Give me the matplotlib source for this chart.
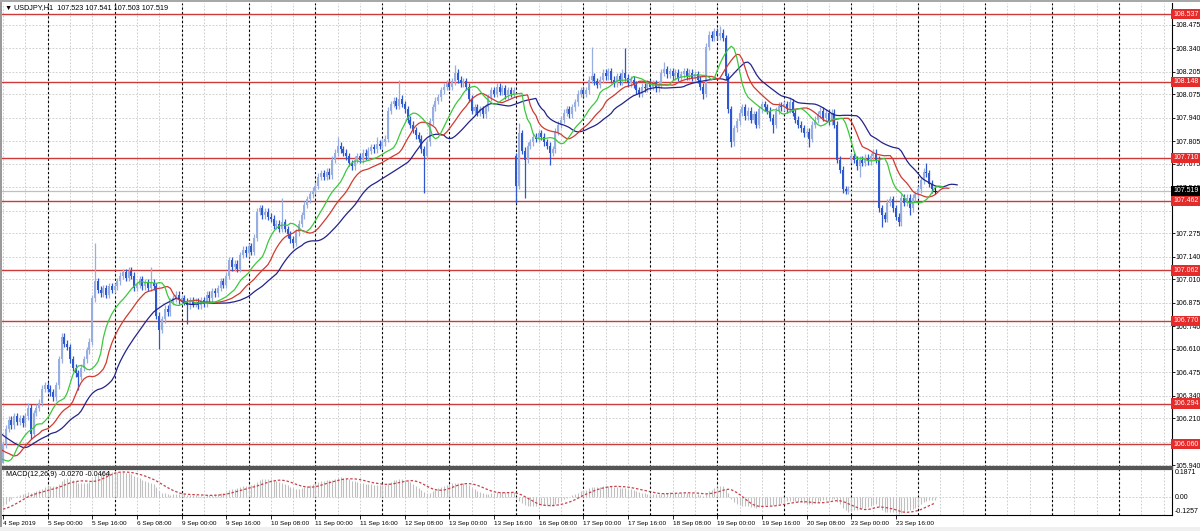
import numpy as np
import matplotlib
matplotlib.use("Agg")
import matplotlib.pyplot as plt
from matplotlib.patches import Rectangle
import matplotlib.transforms as mtransforms
from matplotlib import font_manager

installed = {f.name for f in font_manager.fontManager.ttflist}
if 'Liberation Sans Narrow' in installed:
    FONT, FS_AX, FS_T, FS_TT = 'Liberation Sans Narrow', 5.8, 5.8, 6.0
elif 'DejaVu Sans Condensed' in installed:
    FONT, FS_AX, FS_T, FS_TT = 'DejaVu Sans Condensed', 5.0, 4.9, 5.2
else:
    FONT, FS_AX, FS_T, FS_TT = 'Liberation Sans', 5.0, 4.6, 5.2
plt.rcParams['font.family'] = [FONT, 'DejaVu Sans']

# ---------------- data ----------------
symbol_title = "\u25BC USDJPY,H1  107.523 107.541 107.503 107.519"
macd_title = "MACD(12,26,9) -0.0270 -0.0464"

# closes before the visible window (inferred from where the indicators start)
prior_close = [106.38, 106.35, 106.33, 106.30, 106.31, 106.27, 106.25, 106.22, 106.20, 106.18,
               106.15, 106.12, 106.10, 106.08, 106.06, 106.05, 106.03, 106.02, 106.00, 105.99,
               105.98, 105.97, 105.96, 105.95, 105.96, 105.94, 105.95, 105.96, 105.94, 105.95]

close_04 = [106.06, 106.15, 106.20, 106.17, 106.22, 106.19, 106.21, 106.18, 106.22, 106.27,
            106.12, 106.24, 106.27, 106.30, 106.38, 106.40]
close_05 = [106.38, 106.36, 106.33, 106.40, 106.55, 106.68, 106.64, 106.62, 106.55, 106.50,
            106.47, 106.45, 106.50, 106.55, 106.60, 106.65, 106.90, 107.00, 106.95, 106.93,
            106.96, 106.92, 106.97, 106.95]
close_06 = [106.97, 107.00, 107.03, 107.05, 107.02, 107.06, 107.03, 106.96, 106.98, 107.01,
            106.97, 106.99, 106.96, 106.99, 106.97, 106.80, 106.72, 106.78, 106.84, 106.82,
            106.88, 106.90, 106.92, 106.89]
close_09 = [106.90, 106.88, 106.86, 106.89, 106.87, 106.88, 106.86, 106.89, 106.87, 106.92,
            106.90, 106.94, 106.93, 106.96, 107.00, 106.98, 107.03, 107.12, 107.08, 107.10,
            107.07, 107.15, 107.18, 107.16]
close_10 = [107.20, 107.17, 107.25, 107.40, 107.42, 107.38, 107.40, 107.37, 107.36, 107.32,
            107.33, 107.30, 107.34, 107.30, 107.27, 107.24, 107.22, 107.28, 107.33, 107.38,
            107.44, 107.47, 107.50, 107.52]
close_11 = [107.55, 107.60, 107.62, 107.60, 107.63, 107.61, 107.70, 107.74, 107.78, 107.76,
            107.74, 107.72, 107.68, 107.66, 107.70, 107.72, 107.70, 107.74, 107.72, 107.75,
            107.77, 107.76, 107.79, 107.78]
close_12 = [107.80, 107.82, 107.98, 108.02, 108.04, 108.01, 108.05, 108.02, 107.99, 107.93,
            107.90, 107.87, 107.84, 107.82, 107.76, 107.72, 107.80, 107.92, 108.00, 108.04,
            108.06, 108.10, 108.12, 108.14]
close_13 = [108.12, 108.15, 108.20, 108.16, 108.14, 108.15, 108.12, 108.05, 107.98, 108.00,
            107.97, 107.99, 107.96, 108.00, 108.06, 108.10, 108.08, 108.12, 108.09, 108.11,
            108.07, 108.10, 108.08, 108.10]
close_16 = [107.55, 107.85, 107.75, 107.70, 107.78, 107.80, 107.83, 107.82, 107.85, 107.83,
            107.80, 107.78, 107.74, 107.76, 107.86, 107.90, 107.93, 107.97, 107.99, 107.96,
            108.00, 108.03, 108.08, 108.10]
close_17 = [108.08, 108.10, 108.16, 108.18, 108.15, 108.13, 108.16, 108.20, 108.18, 108.21,
            108.16, 108.14, 108.18, 108.15, 108.20, 108.17, 108.14, 108.16, 108.13, 108.10,
            108.08, 108.12, 108.11, 108.14]
close_18 = [108.12, 108.14, 108.11, 108.13, 108.20, 108.22, 108.19, 108.21, 108.18, 108.20,
            108.17, 108.19, 108.21, 108.18, 108.20, 108.17, 108.19, 108.16, 108.12, 108.08,
            108.35, 108.42, 108.40, 108.44]
close_19 = [108.41, 108.43, 108.40, 108.18, 107.99, 107.80, 107.88, 107.92, 107.97, 108.00,
            107.95, 107.98, 107.93, 107.96, 107.90, 107.99, 108.02, 108.00, 107.98, 107.94,
            107.90, 107.98, 108.01, 108.00]
close_20 = [108.02, 107.99, 108.03, 107.97, 107.93, 107.90, 107.88, 107.85, 107.86, 107.82,
            107.90, 107.93, 107.96, 107.98, 107.94, 107.97, 107.92, 107.97, 107.90, 107.70,
            107.64, 107.53, 107.52, 107.53]
close_23 = [107.72, 107.70, 107.66, 107.70, 107.68, 107.71, 107.69, 107.72, 107.74, 107.70,
            107.42, 107.38, 107.36, 107.45, 107.47, 107.42, 107.37, 107.34, 107.48, 107.45,
            107.48, 107.42, 107.48, 107.50]
close_24 = [107.53, 107.58, 107.63, 107.62, 107.56, 107.53, 107.519]

close = (close_04 + close_05 + close_06 + close_09 + close_10 + close_11 + close_12 +
         close_13 + close_16 + close_17 + close_18 + close_19 + close_20 + close_23 + close_24)

weekend_open = {184: 107.72, 304: 107.70}
last_ohlc = (107.523, 107.541, 107.503, 107.519)
high_spike = {9: 106.30, 33: 107.22, 45: 107.08, 53: 107.08, 100: 107.48, 120: 107.83,
              134: 107.83, 142: 108.16, 162: 108.245, 185: 107.91, 211: 108.35, 223: 108.34,
              237: 108.26, 257: 108.47, 282: 108.06, 331: 107.68}
low_spike = {0: 106.00, 10: 106.09, 18: 106.31, 27: 106.37, 56: 106.61, 66: 106.75,
             104: 107.19, 151: 107.51, 184: 107.45, 187: 107.48, 196: 107.67, 251: 108.05,
             261: 107.77, 276: 107.85, 289: 107.77, 307: 107.60, 315: 107.31, 325: 107.38}
typical_wick = 0.02

levels = [108.537, 108.148, 107.710, 107.462, 107.062, 106.770, 106.294, 106.060]
bid = 107.519

grid_prices = [105.940, 106.075, 106.210, 106.340, 106.475, 106.610, 106.740, 106.875, 107.010,
               107.140, 107.275, 107.405, 107.540, 107.675, 107.805, 107.940, 108.075, 108.205,
               108.340, 108.475]
hidden_labels = [106.075, 107.405]

time_labels = ["4 Sep 2019", "5 Sep 00:00", "5 Sep 16:00", "6 Sep 08:00", "9 Sep 00:00",
               "9 Sep 16:00", "10 Sep 08:00", "11 Sep 00:00", "11 Sep 16:00", "12 Sep 08:00",
               "13 Sep 00:00", "13 Sep 16:00", "16 Sep 08:00", "17 Sep 00:00", "17 Sep 16:00",
               "18 Sep 08:00", "19 Sep 00:00", "19 Sep 16:00", "20 Sep 08:00", "23 Sep 00:00",
               "23 Sep 16:00"]
label_step = 16
day_first_bar = 16
bars_per_day = 24

macd_ticks = [0.1871, 0.0, -0.1257]

# ---------------- OHLC build ----------------
n = len(close)
c = np.array(close, dtype=float)
o = np.empty(n)
o[0] = prior_close[-1]
o[1:] = c[:-1]
for k, v in weekend_open.items():
    o[k] = v
o[-1] = last_ohlc[0]
h = np.maximum(o, c) + typical_wick
l = np.minimum(o, c) - typical_wick
for k, v in high_spike.items():
    h[k] = max(v, max(o[k], c[k]))
for k, v in low_spike.items():
    l[k] = min(v, min(o[k], c[k]))
h[-1], l[-1] = last_ohlc[1], last_ohlc[2]

pc = np.array(prior_close)
full_c = np.concatenate([pc, c])
full_h = np.concatenate([pc + typical_wick, h])
full_l = np.concatenate([pc - typical_wick, l])
median = (full_h + full_l) / 2
npri = len(pc)
full_x = np.arange(len(full_c)) - npri


def smma(x, p):
    out = np.full(len(x), np.nan)
    out[p - 1] = np.mean(x[:p])
    for i in range(p, len(x)):
        out[i] = (out[i - 1] * (p - 1) + x[i]) / p
    return out


def ema(x, p):
    a = 2.0 / (p + 1)
    out = np.empty(len(x))
    out[0] = x[0]
    for i in range(1, len(x)):
        out[i] = a * x[i] + (1 - a) * out[i - 1]
    return out


jaw = smma(median, 13)
teeth = smma(median, 8)
lips = smma(median, 5)

macd_main = ema(full_c, 12) - ema(full_c, 26)
signal = np.convolve(macd_main, np.ones(9) / 9, mode='full')[:len(macd_main)]
signal[:8] = np.nan

# ---------------- figure ----------------
W, H = 1200, 531
fig = plt.figure(figsize=(12, 5.31), dpi=100)
fig.patch.set_facecolor('white')


def fx(px):
    return px / W


def fy(py):
    return 1 - py / H


left_px, right_px = 1.6, 1172
ax = fig.add_axes([fx(left_px), fy(467), fx(right_px - left_px), fy(3) - fy(467)])
ax2 = fig.add_axes([fx(left_px), fy(515), fx(right_px - left_px), fy(469) - fy(515)], sharex=ax)

xmin, xmax = -0.5, 419.0
ax.set_xlim(xmin, xmax)
ax.set_ylim(105.9289, 108.6017)
ax2.set_ylim(-0.1257, 0.1871)

grid_col = '#c6c6c6'
dots = (0, (2, 2))
for gp in grid_prices:
    ax.axhline(gp, color=grid_col, lw=0.6, ls=dots, zorder=0)
ax2.axhline(0.0, color=grid_col, lw=0.6, ls=dots, zorder=0)
for k in range(0, int(xmax) + 1, 8):
    ax.axvline(k, color=grid_col, lw=0.6, ls=dots, zorder=0)
    ax2.axvline(k, color=grid_col, lw=0.6, ls=dots, zorder=0)
for k in range(day_first_bar, int(xmax) + 1, bars_per_day):
    ax.axvline(k, color='black', lw=0.8, ls=dots, zorder=1)
    ax2.axvline(k, color='black', lw=0.8, ls=dots, zorder=1)

for lv in levels:
    ax.axhline(lv, color='#cc3a3a', lw=1.0, zorder=2)
ax.axhline(bid, color='#c0c0c0', lw=0.9, zorder=1.5)

# candles
idx = np.arange(n)
up = c >= o
doji = np.abs(c - o) < 0.006
bull_col = '#98aee0'
bear_col = '#2d58cf'
body_b = np.minimum(o, c)
body_h = np.maximum(np.abs(c - o), 0.004)
m_up = up & ~doji
m_dn = ~up & ~doji
ax.vlines(idx[m_up], l[m_up], h[m_up], color=bull_col, lw=0.9, zorder=3)
ax.vlines(idx[m_dn], l[m_dn], h[m_dn], color=bear_col, lw=0.9, zorder=3)
ax.bar(idx[m_up], body_h[m_up], bottom=body_b[m_up], width=0.72, color=bull_col, lw=0, zorder=3)
ax.bar(idx[m_dn], body_h[m_dn], bottom=body_b[m_dn], width=0.72, color=bear_col, lw=0, zorder=3)
ax.vlines(idx[doji], l[doji], h[doji], color='#222222', lw=0.8, zorder=3)
ax.hlines(c[doji], idx[doji] - 0.9, idx[doji] + 0.9, color='#222222', lw=0.8, zorder=3)

# alligator lines (shifted forward)
ax.plot(full_x + 8, jaw, color='#23238c', lw=0.9, zorder=4)
ax.plot(full_x + 5, teeth, color='#d03a30', lw=0.9, zorder=4)
ax.plot(full_x + 3, lips, color='#3cc83c', lw=0.9, zorder=4)

# MACD
win = slice(npri, None)
ax2.vlines(idx, 0, macd_main[win], color='#c0c0c0', lw=0.8, zorder=2)
ax2.plot(idx, signal[win], color='#c8404a', lw=0.9, ls=(0, (2, 1.5)), zorder=3)

for a in (ax, ax2):
    a.set_facecolor('white')
    a.spines['left'].set_visible(False)
    a.spines['right'].set_color('black')
    a.spines['right'].set_linewidth(0.8)
ax.spines['top'].set_visible(False)
ax.spines['bottom'].set_color('#555555')
ax.spines['bottom'].set_linewidth(1.6)
ax2.spines['top'].set_color('#555555')
ax2.spines['top'].set_linewidth(1.6)
ax2.spines['bottom'].set_color('black')
ax2.spines['bottom'].set_linewidth(0.8)

shown = [g for g in grid_prices if g not in hidden_labels]
ax.yaxis.tick_right()
ax.set_yticks(shown)
ax.set_yticklabels([f"{g:.3f}" for g in shown])
ax.tick_params(axis='y', length=2.0, width=0.6, pad=0.8, labelsize=FS_AX, colors='black')
ax.tick_params(axis='x', bottom=False, labelbottom=False)

ax2.yaxis.tick_right()
ax2.set_yticks(macd_ticks)
ax2.set_yticklabels([f"{macd_ticks[0]:.4f}", "0.00", f"{macd_ticks[2]:.4f}"])
ax2.tick_params(axis='y', length=0, pad=2.0, labelsize=FS_AX)
lbls = ax2.get_yticklabels()
lbls[0].set_va('top')
lbls[2].set_va('bottom')

ax2.set_xticks([label_step * k for k in range(len(time_labels))])
ax2.set_xticklabels(time_labels, ha='left')
ax2.tick_params(axis='x', length=3, width=0.6, pad=1.2, labelsize=FS_T)

tr = mtransforms.blended_transform_factory(ax.transAxes, ax.transData)
for lv in levels:
    ax.text(1.0010, lv, f"{lv:.3f}", transform=tr, fontsize=FS_AX, color='white', va='center',
            ha='left', zorder=10, clip_on=False,
            bbox=dict(boxstyle='square,pad=0.25', fc='#e62b2b', ec='none'))
ax.text(1.0010, bid, f"{bid:.3f}", transform=tr, fontsize=FS_AX, color='white', va='center',
        ha='left', zorder=11, clip_on=False,
        bbox=dict(boxstyle='square,pad=0.25', fc='black', ec='none'))

fig.text(fx(5), fy(8), symbol_title, fontsize=FS_TT, va='center', ha='left', color='black')
fig.text(fx(6), fy(474.5), macd_title, fontsize=FS_TT, va='center', ha='left', color='black')

fig.patches.append(Rectangle((0, 0), 1, fy(527), transform=fig.transFigure,
                             fc='#f0f0f0', ec='none', zorder=-1))
fig.patches.append(Rectangle((0, fy(527)), fx(1.6), 1 - fy(527), transform=fig.transFigure,
                             fc='#9a9a9a', ec='none', zorder=5))
fig.patches.append(Rectangle((0, fy(1.5)), 1, 1 - fy(1.5), transform=fig.transFigure,
                             fc='#a8a8a8', ec='none', zorder=5))

fig.savefig("out.png", dpi=100)
